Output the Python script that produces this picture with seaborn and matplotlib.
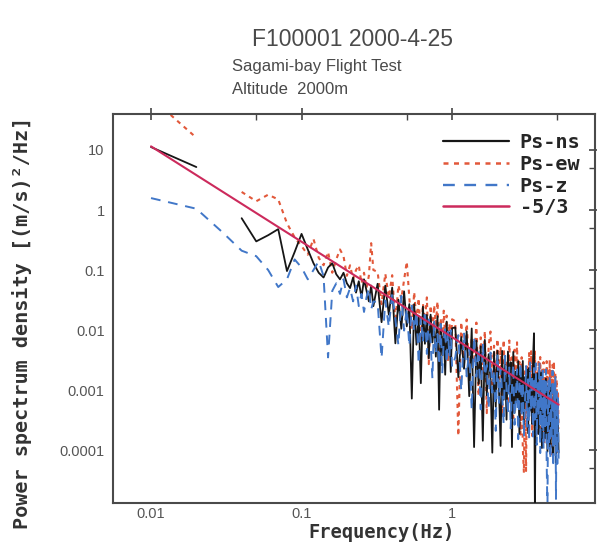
import matplotlib
matplotlib.use("Agg")
import matplotlib.pyplot as plt
from matplotlib.lines import Line2D
from matplotlib.ticker import NullFormatter
import seaborn as sns
import pandas as pd

sns.set_style("white")
plt.rcParams["font.family"] = ["Liberation Sans", "DejaVu Sans"]

# ---------------- data ----------------
freq_low = [0.01, 0.02, 0.03, 0.04, 0.05, 0.06, 0.07, 0.08, 0.09, 0.10,
            0.11, 0.12, 0.13, 0.14, 0.15, 0.16, 0.17, 0.18, 0.19, 0.20,
            0.21, 0.22, 0.23, 0.24, 0.25, 0.26, 0.27, 0.28, 0.29, 0.30]
freq_mid = [0.32, 0.34, 0.36, 0.38, 0.40, 0.42, 0.44, 0.46, 0.48, 0.50,
            0.52, 0.54, 0.56, 0.58, 0.60, 0.62, 0.64, 0.66, 0.68, 0.70,
            0.72, 0.74, 0.76, 0.78, 0.80, 0.82, 0.84, 0.86, 0.88, 0.90,
            0.92, 0.94, 0.96, 0.98, 1.00]
freq_high = [1.05, 1.10, 1.15, 1.20, 1.25, 1.30, 1.35, 1.40, 1.45, 1.50,
             1.55, 1.60, 1.65, 1.70, 1.75, 1.80, 1.85, 1.90, 1.95, 2.00,
             2.05, 2.10, 2.15, 2.20, 2.25, 2.30, 2.35, 2.40, 2.45, 2.50,
             2.55, 2.60, 2.65, 2.70, 2.75, 2.80, 2.85, 2.90, 2.95, 3.00,
             3.05, 3.10, 3.15, 3.20, 3.25, 3.30, 3.35, 3.40, 3.45, 3.50,
             3.55, 3.60, 3.65, 3.70, 3.75, 3.80, 3.85, 3.90, 3.95, 4.00,
             4.05, 4.10, 4.15, 4.20, 4.25, 4.30, 4.35, 4.40, 4.45, 4.50,
             4.55, 4.60, 4.65, 4.70, 4.75, 4.80, 4.85, 4.90, 4.95, 5.00,
             5.05, 5.10]

ns_low = [11.2, 5.2, None, 0.73, 0.30, 0.38, 0.48, 0.096, 0.20, 0.40,
          0.22, 0.13, 0.09, 0.075, 0.11, 0.13, 0.085, 0.07, 0.09, 0.06,
          0.05, 0.075, 0.042, 0.065, 0.035, 0.07, 0.045, 0.03, 0.055, 0.025]
ns_mid = [0.059, 0.0135, 0.055, 0.018, 0.051, 0.006, 0.032, 0.0105, 0.044, 0.0115,
          0.027, 0.00072, 0.027, 0.0057, 0.017, 0.0013, 0.0245, 0.0059, 0.0178, 0.0034,
          0.018, 0.0062, 0.0132, 0.0036, 0.017, 0.00047, 0.0126, 0.0038, 0.0093, 0.0018,
          0.0138, 0.0042, 0.0091, 0.0020, 0.0107]
ns_high = [0.0111, 0.00164, 0.00766, 0.00226, 0.00948, 0.00079, 0.0106, 0.000112, 0.00667, 0.00126,
           0.00535, 0.000143, 0.00684, 0.00082, 0.00394, 0.0015, 0.0000904, 0.00435, 0.000525, 0.00449,
           0.000966, 0.000117, 0.00449, 0.000687, 0.00264, 0.000321, 0.00438, 0.000946, 0.0029, 0.000112,
           0.00432, 0.000418, 0.00203, 0.000624, 0.00303, 0.000186, 0.00228, 0.000443, 0.00305, 0.000264,
           0.00163, 0.00063, 0.00218, 0.00019, 0.00233, 0.000454, 0.00157, 0.000273, 0.00336, 0.00883,
           0.0000101, 0.00157, 0.000307, 0.0019, 0.000185, 0.00115, 0.000355, 0.00195, 0.000108, 0.00133,
           0.00026, 0.00102, 0.000158, 0.00155, 0.000382, 0.0000942, 0.00116, 0.000228, 0.00089, 0.00011,
           0.00122, 0.000267, 0.00066, 0.0000817, 0.00101, 0.000158, 0.00039, 0.0000608, 0.000753, 0.000117,
           0.00029, 0.0000904]

ew_low = [75.0, 16.0, None, 2.0, 1.4, 1.8, 1.5, 0.6, 0.35, 0.25,
          0.18, 0.33, 0.16, 0.12, 0.2, 0.09, 0.15, 0.22, 0.17, 0.08,
          0.12, 0.07, 0.1, 0.12, 0.06, 0.09, 0.05, 0.08, 0.28, 0.1]
ew_mid = [0.093, 0.027, 0.087, 0.035, 0.082, 0.0135, 0.056, 0.033, 0.069, 0.138,
          0.034, 0.0102, 0.043, 0.0144, 0.034, 0.0065, 0.0275, 0.0148, 0.035, 0.0027,
          0.0257, 0.0078, 0.026, 0.0126, 0.030, 0.0033, 0.0158, 0.0061, 0.021, 0.0071,
          0.0174, 0.0030, 0.0129, 0.0049, 0.0151]
ew_high = [0.0140, 0.000172, 0.0136, 0.00285, 0.0150, 0.00158, 0.00748, 0.00281, 0.0133, 0.000796,
           0.00755, 0.0018, 0.00966, 0.000412, 0.00556, 0.00944, 0.00114, 0.00547, 0.00066, 0.00711,
           0.00153, 0.00524, 0.000356, 0.00687, 0.00105, 0.00321, 0.000491, 0.0067, 0.000728, 0.00353,
           0.000343, 0.00469, 0.00102, 0.00624, 0.000481, 0.00295, 0.000181, 0.00352, 0.000108, 0.0000419,
           0.00205, 0.0000447, 0.00245, 0.000301, 0.00414, 0.000571, 0.00443, 0.000172, 0.00267, 0.000413,
           0.00453, 0.000313, 0.00194, 0.00019, 0.00294, 0.000456, 0.00355, 0.000219, 0.00215, 0.000334,
           0.00292, 0.000128, 0.00158, 0.000389, 0.00303, 0.000237, 0.00207, 0.000144, 0.00316, 0.000348,
           0.00216, 0.0000845, 0.00263, 0.000258, 0.00299, 0.000158, 0.00195, 0.000192, 0.0015, 0.0000933,
           0.000918, 0.000227]

z_low = [1.58, 1.05, 0.42, 0.21, 0.17, 0.10, 0.052, 0.07, 0.15, 0.11,
         0.07, 0.10, 0.14, 0.079, 0.0035, 0.045, 0.06, 0.04, 0.07, 0.035,
         0.05, 0.03, 0.055, 0.025, 0.04, 0.02, 0.035, 0.05, 0.022, 0.03]
z_mid = [0.029, 0.0034, 0.031, 0.0112, 0.041, 0.0151, 0.0056, 0.037, 0.0098, 0.023,
         0.0054, 0.0255, 0.0096, 0.0203, 0.0027, 0.0163, 0.0061, 0.021, 0.0040, 0.015,
         0.0064, 0.00155, 0.0148, 0.0040, 0.0086, 0.0026, 0.0126, 0.0019, 0.0066, 0.0113,
         0.0028, 0.0094, 0.0036, 0.0099, 0.0024]
z_high = [0.00352, 0.00822, 0.000964, 0.00902, 0.00169, 0.00501, 0.000472, 0.00793, 0.00167, 0.00502,
          0.000476, 0.0057, 0.00172, 0.0026, 0.000495, 0.00422, 0.000904, 0.00218, 0.000209, 0.004,
          0.00061, 0.00234, 0.000895, 0.000274, 0.00372, 0.00101, 0.00039, 0.00238, 0.00023, 0.00112,
          0.00272, 0.000264, 0.000809, 0.00221, 0.000152, 0.00117, 0.00287, 0.000352, 0.00136, 0.000167,
          0.000647, 0.00251, 0.000245, 0.00151, 0.000147, 0.00286, 0.000443, 0.00172, 0.000168, 0.00232,
          0.000321, 0.00279, 0.000122, 0.00151, 0.00037, 0.00288, 0.0000891, 0.00174, 0.000215, 0.00211,
          0.000104, 0.00144, 0.00025, 0.00219, 0.0000605, 0.0000094, 0.00147, 0.000114, 0.00178, 0.0000695,
          0.00108, 0.000169, 0.00209, 0.0000515, 0.00127, 0.000125, 0.00174, 0.0000153, 0.000948, 0.0000589,
          0.00073, 0.0000718]

slope_freq = [0.01, 5.1]
slope_psd = [11.5, 0.00057]

series_names = ["Ps-ns", "Ps-ew", "Ps-z", "-5/3"]
y_ticks = [0.0001, 0.001, 0.01, 0.1, 1, 10]
y_tick_labels = ["0.0001", "0.001", "0.01", "0.1", "1", "10"]
x_ticks = [0.01, 0.1, 1]
x_tick_labels = ["0.01", "0.1", "1"]

# ---------------- build table ----------------
freq = freq_low + freq_mid + freq_high
series_vals = {
    "Ps-ns": ns_low + ns_mid + ns_high,
    "Ps-ew": ew_low + ew_mid + ew_high,
    "Ps-z": z_low + z_mid + z_high,
}
rows = []
for name, vals in series_vals.items():
    seg = 0
    for f, v in zip(freq, vals):
        if v is None:
            seg += 1
            continue
        rows.append({"series": name, "freq": f, "psd": v, "seg": seg})
df = pd.DataFrame(rows)
slope_df = pd.DataFrame({"freq": slope_freq, "psd": slope_psd, "seg": [0, 0]})

style = {
    "Ps-ns": dict(color="#161616", lw=1.3, ls="-", z=3),
    "Ps-ew": dict(color="#e2583a", lw=1.5, ls=(0, (2, 2.2)), z=2),
    "Ps-z": dict(color="#4177c8", lw=1.4, ls=(0, (5, 4)), z=4),
    "-5/3": dict(color="#cc2a5c", lw=1.5, ls="-", z=5),
}

# ---------------- figure ----------------
W, H = 597, 546
fig = plt.figure(figsize=(W / 100, H / 100), dpi=100)
ax_l, ax_r, ax_t, ax_b = 113, 595, 114, 503
ax = fig.add_axes([ax_l / W, 1 - ax_b / H, (ax_r - ax_l) / W, (ax_b - ax_t) / H])
ax.set_xscale("log")
ax.set_yscale("log")

for name in ["Ps-ns", "Ps-ew", "Ps-z"]:
    st = style[name]
    sns.lineplot(data=df[df["series"] == name], x="freq", y="psd", units="seg",
                 estimator=None, color=st["color"], linewidth=st["lw"],
                 linestyle=st["ls"], zorder=st["z"], ax=ax, legend=False)
st = style["-5/3"]
sns.lineplot(data=slope_df, x="freq", y="psd", units="seg", estimator=None,
             color=st["color"], linewidth=st["lw"], zorder=st["z"], ax=ax, legend=False)

ax.set_xlim(0.00559, 8.9)
ax.set_ylim(1.31e-5, 39.8)
ax.set_xlabel("")
ax.set_ylabel("")

ax.set_xticks(x_ticks, labels=x_tick_labels)
ax.set_xticks([0.05, 0.5, 5], minor=True)
ax.set_yticks(y_ticks, labels=y_tick_labels)
ax.set_yticks([0.00005, 0.0005, 0.005, 0.05, 0.5, 5], minor=True)
ax.xaxis.set_minor_formatter(NullFormatter())
ax.yaxis.set_minor_formatter(NullFormatter())
ax.tick_params(which="major", direction="inout", length=8, width=1.2, color="#444444",
               top=True, right=True, labelsize=10.5, labelcolor="#555555")
ax.tick_params(axis="y", which="major", pad=2)
ax.tick_params(axis="x", which="major", pad=-1)
ax.tick_params(which="minor", direction="in", length=4, width=1.0, color="#444444",
               top=True, right=True)
for sp in ax.spines.values():
    sp.set_color("#4a4a4a")
    sp.set_linewidth(1.5)

# legend
handles = [Line2D([], [], color=style[n]["color"], lw=style[n]["lw"] + 0.3, ls=style[n]["ls"])
           for n in series_names]
ax.legend(handles, series_names, loc="upper left",
          bbox_to_anchor=(443 / W, 1 - 133 / H), bbox_transform=fig.transFigure,
          frameon=False, borderpad=0, borderaxespad=0, handlelength=3.3,
          handletextpad=0.5, labelspacing=0.14,
          prop=dict(family="DejaVu Sans Mono", weight="bold", size=14.5))

# titles
fig.text(252 / W, 1 - 40 / H, "F100001 2000-4-25", fontsize=16.5, color="#4a4a4a",
         ha="left", va="center")
fig.text(232 / W, 1 - 67 / H, "Sagami-bay Flight Test", fontsize=12, color="#4a4a4a",
         ha="left", va="center")
fig.text(232 / W, 1 - 90 / H, "Altitude  2000m", fontsize=12, color="#4a4a4a",
         ha="left", va="center")

# axis labels
fig.text(381 / W, 1 - 533 / H, "Frequency(Hz)", fontsize=13.5, family="DejaVu Sans Mono",
         weight="bold", color="#333333", ha="center", va="center")
fig.text(22 / W, 1 - 323 / H, "Power spectrum density [(m/s)²/Hz]", fontsize=14.5,
         family="DejaVu Sans Mono", weight="bold", color="#333333",
         ha="center", va="center", rotation=90)

fig.savefig("out.png", dpi=100, facecolor="white")
